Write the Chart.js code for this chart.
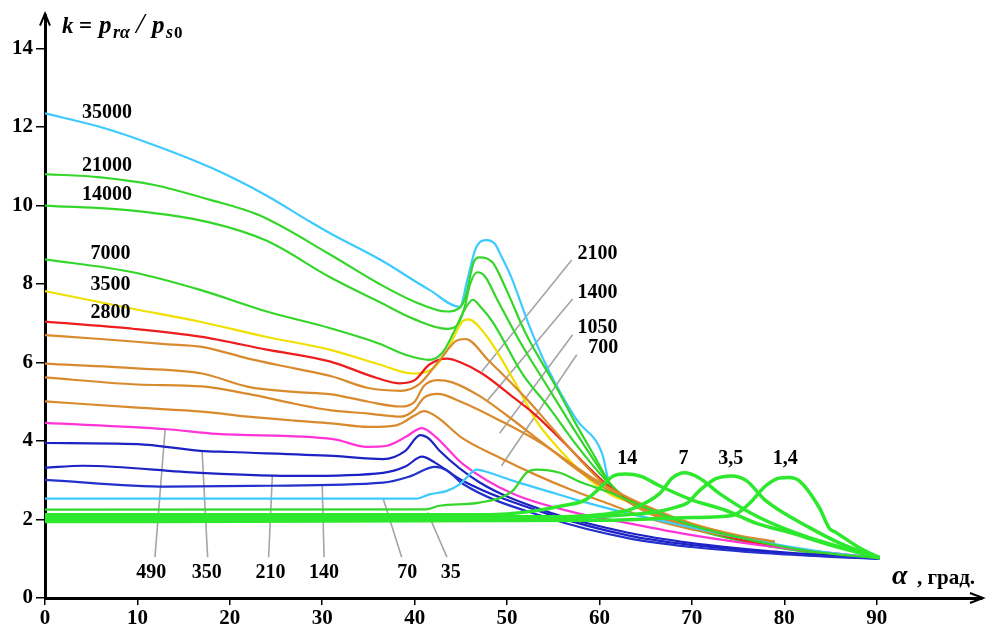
<!DOCTYPE html>
<html><head><meta charset="utf-8">
<script src="https://cdn.jsdelivr.net/npm/chart.js@4.4.1/dist/chart.umd.min.js"></script>
<style>html,body{margin:0;padding:0;background:#fff}canvas{display:block}</style>
</head><body>
<canvas id="c" width="987" height="628"></canvas>
<script>
// ---- tick labels ----
const xTicks = [0,10,20,30,40,50,60,70,80,90];
const yTicks = [0,2,4,6,8,10,12,14];

// ---- series values: [alpha, k] ----
const c35000 = [[0,12.35],[6,12.0],[11.7,11.55],[18,10.96],[24,10.25],[28.6,9.6],[30.8,9.3],[36.2,8.63],[41.6,7.85],[44.9,7.42],[45.7,8.1],[46.6,8.9],[47.8,9.12],[48.7,9.02],[49.4,8.7],[50.5,8.15],[52.3,7.0],[54.3,5.9],[57.5,4.55],[60.3,3.67],[61.1,2.9],[63,2.55],[66,2.15],[70,1.8],[75,1.5],[80,1.28],[85,1.12],[90.3,1.02]];
const c21000 = [[0,10.8],[6,10.72],[11.7,10.53],[17.8,10.15],[23.2,9.75],[30.8,8.76],[36.2,8.0],[40,7.55],[43.5,7.3],[44.9,7.4],[45.6,7.75],[46.1,8.3],[46.4,8.56],[47.0,8.68],[48.4,8.56],[49.9,7.87],[52,6.75],[55.5,5.3],[57.3,4.5],[59.5,3.6],[61.2,2.9],[63,2.5],[66,2.1],[70,1.78],[75,1.48],[80,1.27],[85,1.12],[90.3,1.02]];
const c14000 = [[0,10.0],[9.5,9.87],[17.8,9.57],[24,9.1],[30.8,8.18],[36.2,7.54],[40,7.1],[43.5,6.86],[44.6,6.95],[45.4,7.4],[46.0,8.0],[46.8,8.3],[47.6,8.2],[48.9,7.62],[51.4,6.53],[54.9,5.19],[57.5,4.2],[60,3.3],[61.3,2.88],[63,2.5],[66,2.12],[70,1.77],[75,1.47],[80,1.26],[85,1.1],[90.3,1.02]];
const c7000 = [[0,8.63],[9.5,8.3],[16.8,7.85],[24,7.3],[30.8,6.88],[36.2,6.48],[39,6.2],[41.6,6.07],[43,6.25],[44.2,6.75],[45.3,7.3],[46.3,7.6],[47.2,7.4],[48.4,7.05],[51.7,5.7],[54.6,4.84],[57.5,3.9],[60.5,3.05],[61.8,2.75],[64,2.4],[67,2.05],[70,1.8],[75,1.5],[80,1.28],[85,1.12],[90.3,1.02]];
const c3500 = [[0,7.82],[9.5,7.37],[16.8,7.04],[24,6.65],[30.8,6.33],[36.2,5.95],[39.8,5.72],[42,5.85],[43.5,6.3],[45.2,7.05],[45.8,7.1],[47.7,6.7],[50.8,5.52],[53.2,4.5],[56,3.7],[59,3.0],[61.5,2.6],[63.5,2.43],[67,2.1],[70,1.85],[75,1.52],[80,1.3],[85,1.13],[90.3,1.02]];
const c2800 = [[0,7.04],[9.5,6.86],[16.8,6.66],[24,6.33],[30.8,6.03],[36,5.6],[38.4,5.47],[40,5.55],[41.6,5.95],[43.5,6.1],[45,6.0],[47.3,5.72],[50.8,5.09],[53,4.68],[56,4.0],[59.2,3.24],[61,2.85],[63,2.55],[66,2.15],[70,1.82],[75,1.5],[80,1.3],[85,1.13],[90.3,1.02]];
const c2100 = [[0,6.7],[6,6.6],[13,6.47],[17,6.4],[22,6.1],[27,5.85],[31,5.65],[35,5.35],[38.5,5.28],[40.5,5.45],[42.5,6.0],[44.5,6.55],[45.5,6.6],[48,6.05],[52,5.1],[55,4.3],[58,3.5],[61,2.8],[65,2.2],[70,1.8],[75,1.55],[79,1.42]];
const c1400 = [[0,5.97],[10,5.85],[17,5.72],[22,5.38],[27,5.25],[31,5.19],[35,5.0],[38.5,4.88],[40,5.0],[41,5.4],[42.5,5.55],[44,5.5],[47,5.15],[50,4.65],[55,3.75],[60,2.95],[65,2.35],[70,1.9],[75,1.6],[79,1.44]];
const c1050 = [[0,5.62],[10,5.44],[17,5.39],[22,5.2],[27,4.95],[31,4.78],[35,4.7],[38.5,4.62],[40,4.8],[41,5.1],[42.5,5.2],[45,5.0],[49,4.55],[54,3.9],[58,3.2],[62,2.6],[66,2.15],[70,1.85],[75,1.58],[79,1.4]];
const c700 = [[0,5.01],[10,4.85],[17,4.75],[22,4.62],[27,4.52],[31,4.45],[35,4.36],[38,4.4],[40,4.65],[41,4.76],[42.5,4.6],[45,4.1],[49,3.6],[53,3.15],[57,2.75],[61,2.4],[65,2.05],[70,1.75],[75,1.55],[79,1.38]];
const c490 = [[0,4.46],[13.2,4.3],[18.6,4.18],[31.2,4.05],[34.8,3.85],[37,3.88],[39,4.1],[40.8,4.33],[42.3,4.1],[45.2,3.42],[50.6,2.66],[57.8,2.15],[63.2,1.9],[70,1.6],[78.9,1.3],[85,1.15],[90.3,1.02]];
const c350 = [[0,3.95],[10,3.92],[16.8,3.75],[20,3.72],[31.2,3.62],[36.6,3.54],[39,3.75],[40.6,4.15],[41.6,4.05],[42.7,3.75],[47,2.95],[54,2.23],[63,1.67],[70,1.4],[78,1.2],[85,1.08],[90.3,1.0]];
const c210 = [[0,3.32],[4.1,3.37],[16.8,3.19],[27.6,3.11],[36.6,3.19],[39,3.35],[40.8,3.6],[42.2,3.45],[45.2,2.99],[54.3,2.15],[63.2,1.59],[70,1.35],[78,1.17],[85,1.06],[90.3,1.0]];
const c140 = [[0,3.01],[13.2,2.84],[24,2.86],[36.6,2.94],[39.5,3.1],[42.2,3.34],[43.5,3.25],[45.2,2.91],[54.3,2.05],[63.2,1.52],[70,1.3],[78,1.14],[85,1.05],[90.3,1.0]];
const c70 = [[0,2.53],[40.2,2.53],[41.6,2.64],[43.5,2.73],[44.9,2.9],[45.6,3.06],[46.7,3.27],[48.1,3.19],[50.6,2.99],[54,2.75],[57.8,2.48],[63.2,2.15],[70,1.8],[75,1.55],[80,1.33],[85,1.15],[90.3,1.02]];
const c35 = [[0,2.25],[41.2,2.26],[42.7,2.35],[47,2.43],[50.6,2.73],[52.1,3.19],[53.2,3.27],[55.7,3.19],[58,2.95],[61,2.7],[65,2.3],[70,1.85],[75,1.55],[80,1.3],[85,1.13],[90.3,1.02]];
const c14 = [[0,2.12],[48,2.12],[50,2.14],[53,2.22],[56,2.35],[58.5,2.5],[60.3,2.86],[61.5,3.11],[62.8,3.16],[64.5,3.1],[66.5,2.86],[70,2.5],[73.7,2.23],[77,1.9],[80.9,1.65],[85,1.35],[90.3,1.02]];
const c7 = [[0,2.07],[54,2.07],[61,2.15],[63.6,2.28],[66.5,2.66],[67.9,3.06],[69.2,3.19],[70.8,3.06],[73,2.66],[77.3,2.05],[82.7,1.54],[90.3,1.04]];
const c3_5 = [[0,2.01],[56,2.04],[63,2.12],[66.2,2.2],[68.5,2.33],[69.5,2.42],[70.8,2.73],[72.6,3.04],[74.3,3.11],[75.9,2.99],[78,2.48],[82.7,1.8],[86,1.4],[90.3,1.02]];
const c1_4 = [[0,1.95],[60,1.98],[70,2.05],[74.4,2.1],[76.2,2.4],[78,2.86],[79.5,3.06],[80.5,3.07],[81.6,2.99],[83.8,2.3],[84.9,1.77],[85.6,1.67],[88,1.3],[90.3,1.02]];

// ---- curve labels ----
const leftNames  = ['35000','21000','14000','7000','3500','2800'];
const rightNames = ['2100','1400','1050','700'];
const bottomNames= ['490','350','210','140','70','35'];
const peakNames  = ['14','7','3,5','1,4'];

// ---- styling / placement (not data) ----
const CY='#3ccaff', GR='#34d62a', GB='#2ee82e', YE='#efe000', RE='#ee1c1c', OR='#d98a2c', MA='#ff33d6', BL='#2230cc', BL2='#1d22c4';
const series = [
  {n:'1,4',p:c1_4,c:GB,w:3.5},{n:'3,5',p:c3_5,c:GB,w:3.5},{n:'7',p:c7,c:GB,w:3.5},{n:'14',p:c14,c:GB,w:3.5},
  {n:'35',p:c35,c:GR},{n:'70',p:c70,c:CY},{n:'140',p:c140,c:BL},{n:'210',p:c210,c:BL2},{n:'350',p:c350,c:BL2},
  {n:'490',p:c490,c:MA},{n:'700',p:c700,c:OR},{n:'1050',p:c1050,c:OR},{n:'1400',p:c1400,c:OR},{n:'2100',p:c2100,c:OR},
  {n:'2800',p:c2800,c:RE},{n:'3500',p:c3500,c:YE},{n:'7000',p:c7000,c:GR},{n:'14000',p:c14000,c:GR},
  {n:'21000',p:c21000,c:GR},{n:'35000',p:c35000,c:CY}
];
const leftPos   = [[6.7,12.35],[6.7,11.0],[6.7,10.28],[7.1,8.76],[7.1,7.97],[7.1,7.27]];
const rightPos  = [[59.8,8.76],[59.8,7.77],[59.8,6.89],[60.4,6.38]];
const bottomPos = [[11.5,0.63],[17.5,0.63],[24.4,0.63],[30.2,0.63],[39.2,0.63],[43.9,0.63]];
const peakPos   = [[63.0,3.54],[69.1,3.54],[74.2,3.54],[80.1,3.54]];
const leaders = [
  [57.0,8.61,47.27,5.77],[57.1,7.62,47.8,5.01],[57.1,6.71,49.2,4.2],[57.55,6.2,49.4,3.37],
  [11.9,1.04,13.0,4.3],[17.6,1.04,17.0,3.75],[24.2,1.04,24.6,3.11],[30.2,1.04,30.0,2.89],[38.6,1.04,36.6,2.53],[43.5,1.04,41.4,2.18]
];

const SERIF = '"Liberation Serif", "DejaVu Serif", serif';
const tickFont = {family:SERIF, weight:'bold', size:21};
const LBL = 'bold 20px ' + SERIF;

const overlay = {
  id:'overlay',
  beforeDatasetsDraw(chart){
    const {ctx, scales:{x,y}} = chart;
    ctx.save();
    ctx.strokeStyle='#a5a5a5'; ctx.lineWidth=1.6;
    leaders.forEach(([a,b,c,d])=>{
      ctx.beginPath();
      ctx.moveTo(x.getPixelForValue(a), y.getPixelForValue(b));
      ctx.lineTo(x.getPixelForValue(c), y.getPixelForValue(d));
      ctx.stroke();
    });
    ctx.restore();
  },
  afterDraw(chart){
    const {ctx, chartArea:ca, scales:{x,y}} = chart;
    ctx.save();
    ctx.fillStyle='#000';
    ctx.font=LBL; ctx.textAlign='center'; ctx.textBaseline='middle';
    const put=(names,pos)=>names.forEach((t,i)=>ctx.fillText(t,x.getPixelForValue(pos[i][0]),y.getPixelForValue(pos[i][1])));
    put(leftNames,leftPos); put(rightNames,rightPos); put(bottomNames,bottomPos); put(peakNames,peakPos);

    // arrows
    ctx.strokeStyle='#000'; ctx.lineWidth=2;
    const x0=ca.left, yb=ca.bottom;
    ctx.beginPath(); ctx.moveTo(x0-5,ca.top+10); ctx.lineTo(x0,ca.top-2); ctx.lineTo(x0+5,ca.top+10); ctx.stroke();
    ctx.beginPath(); ctx.moveTo(ca.right-12,yb-5); ctx.lineTo(ca.right+1,yb); ctx.lineTo(ca.right-12,yb+5); ctx.stroke();

    // x title
    ctx.textAlign='left'; ctx.textBaseline='alphabetic';
    const ty = yb-14;
    ctx.font='italic bold 28px ' + SERIF;
    ctx.fillText('α', 892, ty);
    ctx.font='bold 21px ' + SERIF;
    ctx.fillText(', град.', 917, ty);

    // y title
    const kb = 33;
    const parts = [
      ['k','italic bold 23px',62,0],['=','bold 23px',79,0],['p','italic bold 25px',99,0],['rα','italic bold 18px',113,5],
      ['/','italic 30px',136,0],['p','italic bold 25px',152,0],['s','italic bold 18px',166,5],['0','bold 17px',174,5]
    ];
    parts.forEach(([t,f,px,dy])=>{ ctx.font=f+' '+SERIF; ctx.fillText(t,px,kb+dy); });
    ctx.restore();
  }
};

new Chart(document.getElementById('c'), {
  type:'line',
  data:{ datasets: series.map(s=>({
    label:s.n, data:s.p.map(([a,b])=>({x:a,y:b})), borderColor:s.c, borderWidth:s.w||2.2,
    pointRadius:0, fill:false, cubicInterpolationMode:'monotone'
  }))},
  options:{
    responsive:false, animation:false,
    layout:{padding:{top:12,right:5,left:0,bottom:0}},
    plugins:{legend:{display:false}, tooltip:{enabled:false}},
    scales:{
      x:{ type:'linear', min:0, max:101.4,
        afterBuildTicks:s=>{ s.ticks = xTicks.map(v=>({value:v})); },
        afterFit:s=>{ s.height=30; },
        grid:{drawOnChartArea:false, tickLength:7, color:'#000', lineWidth:1.5},
        border:{display:true, color:'#000', width:3},
        ticks:{font:tickFont, color:'#000', padding:1, maxRotation:0, autoSkip:false}
      },
      y:{ type:'linear', min:0, max:14.84,
        afterBuildTicks:s=>{ s.ticks = yTicks.map(v=>({value:v})); },
        afterFit:s=>{ s.width=45; },
        grid:{drawOnChartArea:false, tickLength:9, color:'#000', lineWidth:1.5},
        border:{display:true, color:'#000', width:3},
        ticks:{font:tickFont, color:'#000', padding:3, autoSkip:false}
      }
    }
  },
  plugins:[overlay]
});
</script>
</body></html>
